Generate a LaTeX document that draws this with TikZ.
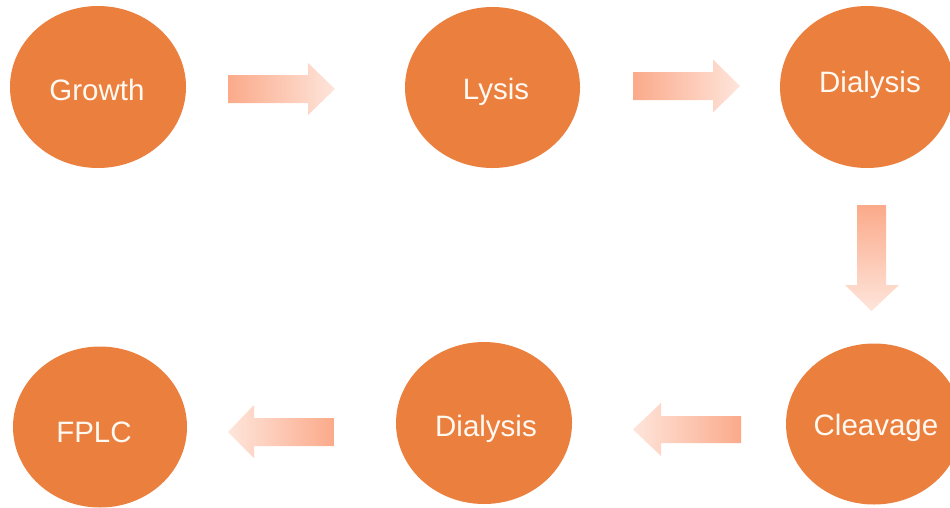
\documentclass[tikz,border=0pt]{standalone}
\usepackage{fontspec}
\setmainfont{Liberation Sans}
\usetikzlibrary{shapes.geometric}
\definecolor{disc}{RGB}{235,127,62}
\definecolor{txt}{RGB}{255,249,242}
\definecolor{arrdark}{RGB}{251,170,138}
\definecolor{arrlight}{RGB}{254,229,219}
\tikzset{
  disk/.style={ellipse, fill=disc, draw=none, inner sep=0pt},
  lbl/.style={anchor=base, text=txt, inner sep=0pt, font=\fontsize{29.5}{32}\selectfont},
}
\begin{document}
\begin{tikzpicture}[x=1pt,y=-1pt]
\useasboundingbox (0,0) rectangle (950,507);
% discs
\node[disk, minimum width=176pt, minimum height=162pt] (growth) at (98,87) {};
\node[disk, minimum width=175pt, minimum height=161pt] (lysis) at (492.5,87.5) {};
\node[disk, minimum width=174pt, minimum height=162pt] (dial1) at (867,87) {};
\node[disk, minimum width=176pt, minimum height=161pt] (cleav) at (874,424) {};
\node[disk, minimum width=176pt, minimum height=162pt] (dial2) at (484,423) {};
\node[disk, minimum width=174pt, minimum height=161pt] (fplc) at (100,427) {};
% labels
\node[lbl] (growth-t) at (97,100) {Growth};
\node[lbl] (lysis-t) at (496,99) {Lysis};
\node[lbl] (dial1-t) at (870,92) {Dialysis};
\node[lbl] (cleav-t) at (876,435) {Cleavage};
\node[lbl] (dial2-t) at (486,436) {Dialysis};
\node[lbl] (fplc-t) at (94,442) {FPLC};
% block arrows
\shade[left color=arrdark, right color=arrlight]
  (228,75) -- (308,75) -- (308,63) -- (335,89) -- (308,115) -- (308,103) -- (228,103) -- cycle;
\shade[left color=arrdark, right color=arrlight]
  (633,72) -- (713,72) -- (713,59.5) -- (740,86) -- (713,112.5) -- (713,100) -- (633,100) -- cycle;
\shade[top color=arrdark, bottom color=arrlight]
  (857,205) -- (886,205) -- (886,285) -- (899,285) -- (871.5,311) -- (845,285) -- (857,285) -- cycle;
\shade[left color=arrlight, right color=arrdark]
  (741,416) -- (661,416) -- (661,403) -- (633,429.5) -- (661,456) -- (661,443) -- (741,443) -- cycle;
\shade[left color=arrlight, right color=arrdark]
  (334,418) -- (254,418) -- (254,405) -- (228,432) -- (254,458) -- (254,446) -- (334,446) -- cycle;
\end{tikzpicture}
\end{document}
